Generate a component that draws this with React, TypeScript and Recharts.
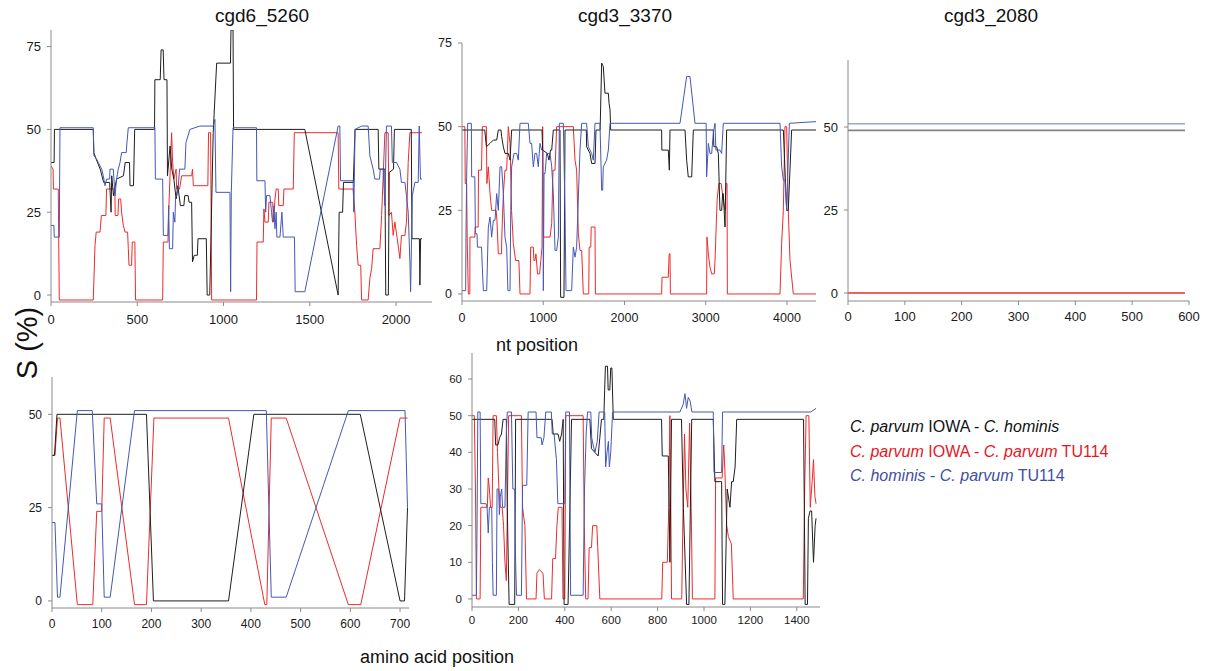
import { LineChart, Line, XAxis, YAxis } from "recharts";

type Pt = [number, number];

/* ── panel 1: cgd6_5260, nt position ───────────────────── */
const p1Black: Pt[] = [
  [0, 40], [18, 40], [20, 50], [245, 50], [248, 43], [262, 41], [285, 38], [305, 34], [340, 34], [348, 25],
  [352, 36], [362, 30], [380, 35], [420, 36], [430, 40], [455, 40], [458, 33], [478, 33], [485, 50], [600, 50],
  [602, 65], [633, 65], [638, 74], [650, 74], [655, 65], [672, 65], [675, 36], [690, 45], [700, 38], [712, 35],
  [725, 29], [735, 33], [750, 27], [770, 27], [775, 30], [795, 30], [800, 28], [815, 28], [820, 10], [830, 12],
  [848, 12], [852, 17], [900, 17], [905, 0], [920, 0], [940, 49], [960, 70], [1040, 70], [1043, 80], [1055, 80],
  [1058, 50], [1471, 50], [1664, 0], [1670, 25], [1690, 25], [1695, 34], [1752, 34], [1762, 50], [1896, 50], [1900, 38],
  [1935, 38], [1940, 0], [1955, 0], [1960, 37], [1985, 38], [1990, 50], [2088, 50], [2092, 17], [2135, 17], [2138, 3],
  [2142, 17], [2150, 17],
];
const p1Red: Pt[] = [
  [0, 39], [12, 38], [14, 32], [42, 32], [48, -1.5], [245, -1.5], [255, 15], [262, 19], [284, 19], [292, 24],
  [318, 24], [322, 32], [370, 32], [372, 24], [388, 24], [392, 29], [404, 29], [409, 25], [419, 21], [429, 19],
  [444, 19], [448, 14], [452, 9], [467, 9], [471, 16], [486, 16], [490, -1.5], [647, -1.5], [651, 16], [678, 16],
  [682, 25], [699, 49], [705, 40], [712, 35], [725, 38], [728, 32], [745, 32], [757, 36], [815, 36], [820, 38],
  [825, 33], [909, 33], [913, 49], [925, 49], [931, -1.5], [1191, -1.5], [1194, 16], [1230, 16], [1234, 26], [1240, 22],
  [1259, 22], [1263, 28], [1285, 28], [1290, 22], [1298, 29], [1305, 32], [1317, 32], [1320, 27], [1346, 27], [1350, 32],
  [1404, 32], [1410, 49], [1664, 49], [1668, 32], [1751, 32], [1761, 25], [1771, 15], [1780, 9], [1795, 9], [1800, -1.5],
  [1838, -1.5], [1848, 5], [1858, 8], [1867, 14], [1906, 14], [1916, 24], [1935, 49], [1954, 49], [1958, 24], [1973, 25],
  [1983, 18], [1993, 22], [2012, 15], [2022, 11], [2031, 18], [2051, 18], [2060, 22], [2070, 40], [2080, 49], [2150, 49],
];
const p1Blue: Pt[] = [
  [0, 21], [17, 21], [19, 17.5], [48, 17.5], [52, 50.5], [245, 50.5], [249, 42], [265, 41], [274, 40], [294, 38],
  [303, 36], [313, 33], [322, 35], [340, 35], [342, 38], [361, 38], [371, 30], [380, 35], [390, 38], [400, 40],
  [409, 43], [436, 43], [440, 46], [448, 50.5], [602, 50.5], [605, 35], [647, 35], [651, 18], [678, 18], [682, 27],
  [686, 14], [705, 14], [709, 25], [718, 22], [722, 30], [730, 30], [738, 33], [745, 38], [776, 38], [782, 46],
  [805, 50], [863, 51], [940, 51], [950, 53], [956, 31], [1037, 31], [1041, 1], [1045, 31], [1055, 50.5], [1191, 50.5],
  [1193, 34.5], [1240, 34.5], [1244, 25], [1249, 30], [1269, 30], [1278, 25], [1284, 22], [1292, 27], [1298, 20], [1305, 25],
  [1309, 17.5], [1327, 17.5], [1338, 25], [1346, 17.5], [1411, 17.5], [1415, 1], [1471, 1], [1664, 51], [1674, 51], [1678, 34.5],
  [1751, 34.5], [1755, 25], [1762, 50], [1800, 51], [1838, 51], [1848, 42], [1867, 38], [1877, 35], [1904, 35], [1908, 38],
  [1925, 38], [1935, 27], [1944, 51], [1973, 51], [1978, 40], [2002, 40], [2022, 38], [2031, 34], [2051, 34], [2060, 30],
  [2070, 25], [2080, 10], [2084, 1], [2094, 30], [2109, 34], [2128, 34], [2134, 51], [2141, 35], [2150, 35],
];

/* ── panel 2: cgd3_3370, nt position ───────────────────── */
const p2Black: Pt[] = [
  [0, 49], [280, 49], [300, 44], [345, 45], [386, 46], [427, 46], [447, 49], [480, 49], [488, 47], [509, 44],
  [529, 42], [570, 42], [591, 40], [611, 49], [985, 49], [993, 43], [1050, 42], [1070, 40], [1090, 43], [1104, 43],
  [1124, 49], [1206, 49], [1214, -1], [1255, -1], [1268, 49], [1530, 49], [1534, 44], [1575, 42], [1596, 39], [1637, 39],
  [1649, 49], [1700, 49], [1719, 69], [1739, 68], [1760, 60], [1801, 60], [1810, 57], [1822, 55], [1830, 49], [2457, 49],
  [2460, 43], [2539, 43], [2552, 37], [2560, 49], [2745, 49], [2765, 40], [2785, 35], [2827, 35], [2847, 49], [3093, 49],
  [3100, 44], [3134, 44], [3155, 42], [3175, 25], [3196, 25], [3208, 30], [3216, 30], [3237, 20], [3257, 49], [3955, 49],
  [3996, 25], [4016, 25], [4057, 49], [4357, 49],
];
const p2Red: Pt[] = [
  [0, 50], [35, 50], [40, 33], [57, 33], [65, 15], [78, 0], [96, 0], [98, 17], [158, 17], [162, 20],
  [199, 20], [203, 37], [240, 37], [250, 50], [300, 50], [306, 33], [324, 38], [345, 30], [365, 25], [420, 25],
  [430, 22], [447, 12], [486, 12], [490, 17], [509, 30], [529, 37], [550, 37], [570, 50], [591, 45], [610, 25],
  [632, 15], [660, 10], [700, 10], [714, 0], [837, 0], [845, 14], [878, 14], [885, 10], [898, 10], [910, 12],
  [930, 6], [955, 6], [970, 10], [985, 14], [993, 50], [1001, 17], [1083, 17], [1104, 21], [1120, 37], [1145, 37],
  [1165, 50], [1370, 50], [1391, 40], [1411, 37], [1432, 18], [1452, 13], [1473, 13], [1493, 0], [1560, 0], [1565, 14],
  [1585, 14], [1590, 20], [1637, 20], [1642, 0], [2457, 0], [2462, 5], [2539, 5], [2550, 12], [2560, 12], [2565, 0],
  [3011, 0], [3015, 17], [3032, 12], [3052, 8], [3073, 6], [3105, 6], [3114, 10], [3140, 28], [3160, 33], [3190, 33],
  [3216, 28], [3237, 25], [3250, 33], [3262, 33], [3266, 0], [3914, 0], [3934, 15], [3955, 25], [3975, 50], [3996, 50],
  [4016, 25], [4037, 10], [4078, 0], [4357, 0],
];
const p2Blue: Pt[] = [
  [0, 1], [45, 1], [49, 17], [57, 35], [70, 51], [115, 51], [119, 35], [158, 35], [165, 18], [185, 18],
  [190, 14], [240, 14], [250, 8], [263, 1], [304, 1], [324, 20], [345, 23], [365, 17], [386, 22], [406, 22],
  [427, 30], [447, 25], [468, 38], [488, 38], [509, 30], [529, 17], [550, 14], [565, 1], [591, 1], [600, 25],
  [611, 38], [640, 42], [673, 42], [693, 40], [714, 51], [816, 51], [837, 45], [857, 45], [878, 38], [898, 42],
  [919, 42], [939, 38], [960, 45], [981, 43], [995, 43], [1001, 1], [1010, 36], [1022, 36], [1042, 42], [1083, 42],
  [1104, 38], [1124, 30], [1145, 13], [1165, 13], [1186, 17], [1198, 51], [1247, 51], [1268, 25], [1280, 1], [1350, 1],
  [1370, 14], [1391, 11], [1411, 14], [1452, 43], [1473, 51], [1534, 51], [1555, 44], [1575, 43], [1596, 42], [1616, 40],
  [1637, 51], [1698, 51], [1719, 31], [1731, 31], [1739, 38], [1780, 40], [1801, 43], [1822, 51], [2683, 51], [2765, 65],
  [2806, 65], [2868, 51], [3005, 51], [3011, 35], [3032, 45], [3052, 42], [3073, 42], [3093, 48], [3114, 51], [3125, 43],
  [3175, 43], [3196, 42], [3216, 51], [3914, 51], [3934, 38], [3955, 34], [3975, 34], [3996, 25], [4029, 51], [4357, 51.5],
];

/* ── panel 3: cgd3_2080, nt position ───────────────────── */
const p3Black: Pt[] = [[0, 49], [593, 49]];
const p3Red: Pt[] = [[0, 0], [593, 0]];
const p3Blue: Pt[] = [[0, 51], [593, 51]];

/* ── panel 4: cgd6_5260, amino acid position ───────────── */
const p4Black: Pt[] = [
  [0, 39], [5, 39], [10, 50], [190, 50], [204, 0], [355, 0], [406, 50], [620, 50], [700, 0], [709, 0], [715, 25],
];
const p4Red: Pt[] = [
  [0, 39], [6, 39], [11, 49], [16, 49], [51, -1], [82, -1], [90, 24], [100, 24], [105, 49], [117, 49],
  [166, -1], [190, -1], [205, 49], [355, 49], [428, -1], [432, -1], [441, 49], [471, 49], [596, -1], [621, -1],
  [700, 49], [715, 49],
];
const p4Blue: Pt[] = [
  [0, 21], [6, 21], [11, 1], [16, 1], [51, 51], [81, 51], [90, 26], [100, 26], [105, 1], [117, 1],
  [166, 51], [431, 51], [441, 1], [471, 1], [596, 51], [710, 51], [715, 25],
];

/* ── panel 5: cgd3_3370, amino acid position ───────────── */
const p5Black: Pt[] = [
  [0, 49], [98, 49], [102, 42], [112, 42], [119, 44], [127, 45], [134, 49], [148, 49], [152, 25], [160, -1.5],
  [184, -1.5], [188, 49], [345, 49], [350, 45], [371, 45], [378, 43], [386, 45], [393, 49], [397, -1.5], [414, -1.5],
  [429, 49], [508, 49], [515, 41], [529, 40], [544, 39], [548, 42], [551, 44], [558, 49], [568, 49], [575, 63.5],
  [584, 63.5], [587, 57], [594, 57], [598, 63], [603, 63], [609, 49], [817, 49], [820, 39], [846, 39], [850, 25],
  [853, 10], [860, 49], [903, 49], [911, 25], [925, -1.5], [935, -1.5], [947, 49], [1040, 49], [1047, 32], [1076, 32],
  [1080, -1.5], [1090, -1.5], [1100, 30], [1112, 25], [1119, 32], [1126, 32], [1134, 36], [1141, 49], [1429, 49], [1436, -1.5],
  [1446, -1.5], [1450, 22], [1457, 24], [1464, 24], [1469, 15], [1472, 10], [1479, 20], [1483, 22],
];
const p5Red: Pt[] = [
  [0, 50], [10, 50], [15, 30], [19, 0], [35, 0], [38, 25], [66, 25], [70, 33], [75, 30], [80, 25],
  [87, 25], [91, 50], [105, 50], [110, 40], [116, 30], [122, 25], [130, 25], [136, 20], [142, 10], [148, 5],
  [158, 50], [213, 50], [218, 25], [228, 20], [235, 0], [276, 0], [280, 7], [290, 8], [306, 7], [312, 0],
  [343, 0], [348, 11], [360, 11], [366, 20], [372, 25], [388, 25], [392, 0], [400, 0], [404, 50], [479, 50],
  [484, 20], [490, 0], [500, 0], [505, 14], [515, 14], [520, 20], [538, 20], [542, 14], [551, 0], [818, 0],
  [822, 10], [842, 10], [848, 25], [853, 50], [857, 25], [860, 0], [904, 0], [910, 25], [916, 45], [922, 30],
  [930, 25], [938, 48], [946, 20], [950, 0], [1047, 0], [1050, 33], [1078, 33], [1085, 42], [1090, 35], [1098, 20],
  [1105, 17], [1118, 15], [1126, 0], [1428, 0], [1434, 30], [1440, 50], [1452, 50], [1458, 25], [1466, 32], [1472, 38],
  [1478, 28], [1483, 26],
];
const p5Blue: Pt[] = [
  [0, 1], [19, 1], [22, 22], [25, 51], [35, 51], [38, 26], [60, 26], [65, 25], [70, 18], [75, 25],
  [85, 25], [88, 10], [91, 1], [105, 1], [108, 30], [115, 30], [118, 23], [122, 28], [128, 30], [132, 25],
  [142, 25], [148, 45], [152, 51], [170, 51], [176, 30], [184, 30], [188, 10], [192, 1], [213, 1], [218, 31],
  [236, 31], [242, 51], [276, 51], [280, 44], [298, 44], [302, 42], [310, 44], [318, 51], [342, 51], [346, 45],
  [354, 45], [358, 42], [364, 38], [370, 26], [400, 26], [404, 51], [420, 51], [425, 1], [479, 1], [485, 30],
  [492, 45], [498, 51], [512, 51], [516, 44], [522, 42], [530, 40], [540, 43], [548, 51], [572, 51], [576, 36],
  [582, 40], [588, 43], [592, 36], [598, 40], [606, 51], [896, 51], [910, 53], [918, 56], [925, 52], [932, 55],
  [940, 54], [948, 51], [1040, 51], [1043, 34.5], [1076, 34.5], [1080, 51], [1460, 51], [1483, 52],
];

/* ── axis ticks ────────────────────────────────────────── */
const p1XTicks = [0, 500, 1000, 1500, 2000];
const p2XTicks = [0, 1000, 2000, 3000, 4000];
const p3XTicks = [0, 100, 200, 300, 400, 500, 600];
const p4XTicks = [0, 100, 200, 300, 400, 500, 600, 700];
const p5XTicks = [0, 200, 400, 600, 800, 1000, 1200, 1400];
const yTicks75 = [0, 25, 50, 75];
const yTicks50 = [0, 25, 50];
const yTicks60 = [0, 10, 20, 30, 40, 50, 60];

const FONT = "'Liberation Sans', Arial, sans-serif";
const BLACK = "#1e1e1e";
const RED = "#ee2a2a";
const BLUE = "#4558b4";
const AXIS = "#8a8a8a";

const toRows = (pts: Pt[]) => pts.map(([x, y]) => ({ x, y }));

interface PanelProps {
  plotX: number;
  plotY: number;
  plotW: number;
  plotH: number;
  xDomain: [number, number];
  yDomain: [number, number];
  xTicks: number[];
  yTicks: number[];
  fontSize: number;
  xTickMargin: number;
  black: Pt[];
  red: Pt[];
  blue: Pt[];
  lineWidth?: number;
  lineOpacity?: number;
}

function Panel(p: PanelProps) {
  const yw = 40; // y axis gutter
  const mt = 10;
  const mr = 12;
  const xh = 34;
  const tick = { fontSize: p.fontSize, fill: "#1a1a1a", fontFamily: FONT };
  const series = [
    { key: "red", pts: p.red, color: RED },
    { key: "black", pts: p.black, color: BLACK },
    { key: "blue", pts: p.blue, color: BLUE },
  ];
  return (
    <div style={{ position: "absolute", left: p.plotX - yw, top: p.plotY - mt }}>
      <LineChart
        width={yw + p.plotW + mr}
        height={mt + p.plotH + xh}
        margin={{ top: mt, right: mr, left: 0, bottom: 0 }}
      >
        <XAxis
          type="number"
          dataKey="x"
          domain={p.xDomain}
          ticks={p.xTicks}
          interval={0}
          allowDataOverflow
          height={xh}
          tickSize={4}
          tickMargin={p.xTickMargin}
          axisLine={{ stroke: AXIS }}
          tickLine={{ stroke: AXIS }}
          tick={tick}
        />
        <YAxis
          type="number"
          domain={p.yDomain}
          ticks={p.yTicks}
          interval={0}
          allowDataOverflow
          width={yw}
          tickSize={4}
          tickMargin={6}
          axisLine={{ stroke: AXIS }}
          tickLine={{ stroke: AXIS }}
          tick={tick}
        />
        {series.map((s) => (
          <Line
            key={s.key}
            data={toRows(s.pts)}
            dataKey="y"
            type="linear"
            stroke={s.color}
            strokeWidth={p.lineWidth ?? 1}
            strokeOpacity={s.key === "red" ? 1 : p.lineOpacity ?? 1}
            dot={false}
            activeDot={false}
            isAnimationActive={false}
          />
        ))}
      </LineChart>
    </div>
  );
}

const txt = (x: number, y: number, size: number): React.CSSProperties => ({
  position: "absolute",
  left: x,
  top: y,
  transform: "translate(-50%, -50%)",
  fontSize: size,
  fontFamily: FONT,
  color: "#111",
  whiteSpace: "nowrap",
});

export default function App() {
  return (
    <div
      style={{
        position: "absolute",
        left: 0,
        top: 0,
        width: 1211,
        height: 671,
        background: "#fff",
        overflow: "hidden",
        fontFamily: FONT,
      }}
    >
      <Panel plotX={51} plotY={30} plotW={381} plotH={272} xDomain={[0, 2208]} yDomain={[-2.1, 80]}
        xTicks={p1XTicks} yTicks={yTicks75} fontSize={13} xTickMargin={9}
        black={p1Black} red={p1Red} blue={p1Blue} />
      <Panel plotX={462} plotY={43} plotW={354} plotH={258} xDomain={[0, 4357]} yDomain={[-2.1, 75]}
        xTicks={p2XTicks} yTicks={yTicks75} fontSize={12.5} xTickMargin={8}
        black={p2Black} red={p2Red} blue={p2Blue} />
      <Panel plotX={848} plotY={60} plotW={341} plotH={241} xDomain={[0, 600]} yDomain={[-2.4, 70.2]}
        xTicks={p3XTicks} yTicks={yTicks50} fontSize={13} xTickMargin={7}
        black={p3Black} red={p3Red} blue={p3Blue} lineWidth={1.6} lineOpacity={0.55} />
      <Panel plotX={52} plotY={377} plotW={357} plotH={231} xDomain={[0, 718]} yDomain={[-1.9, 60]}
        xTicks={p4XTicks} yTicks={yTicks50} fontSize={12} xTickMargin={7}
        black={p4Black} red={p4Red} blue={p4Blue} />
      <Panel plotX={472} plotY={353} plotW={348} plotH={254} xDomain={[0, 1500]} yDomain={[-2.2, 67.1]}
        xTicks={p5XTicks} yTicks={yTicks60} fontSize={11.5} xTickMargin={5}
        black={p5Black} red={p5Red} blue={p5Blue} />

      <div style={txt(262, 16, 19)}>cgd6_5260</div>
      <div style={txt(625, 16, 19)}>cgd3_3370</div>
      <div style={txt(991, 16, 19)}>cgd3_2080</div>

      <div style={{ ...txt(27, 343, 29), transform: "translate(-50%, -50%) rotate(-90deg)" }}>S (%)</div>
      <div style={txt(537, 345, 18)}>nt position</div>
      <div style={txt(437, 657, 18)}>amino acid position</div>

      <div style={{ position: "absolute", left: 850, top: 415, fontSize: 16, lineHeight: "24.5px", fontFamily: FONT, whiteSpace: "nowrap" }}>
        <div style={{ color: "#111" }}>
          <i>C. parvum</i> IOWA - <i>C. hominis</i>
        </div>
        <div style={{ color: "#e8161e" }}>
          <i>C. parvum</i> IOWA - <i>C. parvum</i> TU114
        </div>
        <div style={{ color: "#3f4fa3" }}>
          <i>C. hominis</i> - <i>C. parvum</i> TU114
        </div>
      </div>
    </div>
  );
}
